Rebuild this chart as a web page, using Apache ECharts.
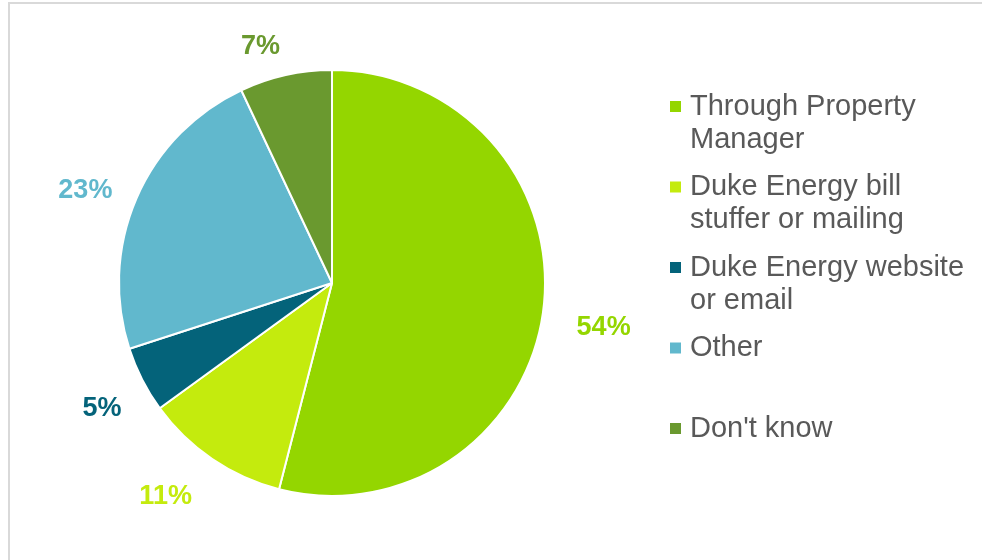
<!DOCTYPE html>
<html>
<head>
<meta charset="utf-8">
<script src="https://cdn.jsdelivr.net/npm/echarts@6/dist/echarts.min.js"></script>
<style>
  html, body { margin: 0; padding: 0; background: #ffffff; overflow: hidden; }
  #frame {
    position: absolute; left: 8px; top: 2px; width: 1000px; height: 600px;
    border: 2px solid #d9d9d9; box-sizing: border-box;
  }
  #chart { position: absolute; left: 0; top: 0; width: 982px; height: 560px; }
</style>
</head>
<body>
<div id="frame"></div>
<div id="chart"></div>
<script>
// Where did respondents hear about the program (share of responses, %)
const categories = [
  'Through Property\nManager',
  'Duke Energy bill\nstuffer or mailing',
  'Duke Energy website\nor email',
  'Other',
  "Don't know"
];
const shares = [54, 11, 5, 23, 7];
const sliceColors = ['#94d600', '#c4eb0d', '#04637a', '#61b8cd', '#6a992f'];

const CENTER = [332, 283];
const RADIUS = 213;
// label placement around the pie: distance from centre and a small angular nudge (degrees)
const labelRadius = [275, 269, 261, 264, 249];
const labelNudge = [1.8, 4, -1.2, -2.5, -4.1];

const chart = echarts.init(document.getElementById('chart'), null, { renderer: 'canvas' });

// mid-angle of each slice, going clockwise from 12 o'clock
const total = shares.reduce((a, b) => a + b, 0);
const midAngles = [];
let acc = 0;
shares.forEach(v => {
  midAngles.push((acc + v / 2) / total * Math.PI * 2);
  acc += v;
});

const legendRich = {
  g: { width: 9, height: 11 },
  ind: { width: 20, height: 11 },
  t: { fontSize: 29, color: '#595959', lineHeight: 33, fontFamily: 'Liberation Sans, Arial, sans-serif', verticalAlign: 'middle' }
};
sliceColors.forEach((c, i) => {
  legendRich['m' + i] = { width: 11, height: 11, backgroundColor: c, verticalAlign: 'middle' };
});

const option = {
  backgroundColor: 'transparent',
  animation: false,
  legend: {
    orient: 'vertical',
    left: 660,
    top: 87,
    icon: 'none',
    itemWidth: 0,
    itemHeight: 11,
    itemGap: 18.5,
    selectedMode: false,
    data: categories,
    formatter: function (name) {
      const i = categories.indexOf(name);
      const lines = name.split('\n');
      let s = '{m' + i + '|}{g|}{t|' + lines[0] + '}';
      for (let k = 1; k < lines.length; k++) s += '\n{ind|}{t|' + lines[k] + '}';
      if (lines.length < 2) s += '\n{t| }';
      return s;
    },
    textStyle: { rich: legendRich }
  },
  series: [{
    type: 'pie',
    center: CENTER,
    radius: RADIUS,
    startAngle: 90,
    clockwise: true,
    avoidLabelOverlap: false,
    itemStyle: { borderColor: '#ffffff', borderWidth: 2 },
    label: {
      show: true,
      position: 'outside',
      formatter: '{c}%',
      fontSize: 27,
      fontWeight: 'bold',
      fontFamily: 'Liberation Sans, Arial, sans-serif'
    },
    labelLine: { show: false },
    labelLayout: function (params) {
      const i = params.dataIndex;
      const a = midAngles[i] + labelNudge[i] * Math.PI / 180;
      return {
        x: CENTER[0] + labelRadius[i] * Math.sin(a),
        y: CENTER[1] - labelRadius[i] * Math.cos(a) + 2,
        align: 'center',
        verticalAlign: 'middle'
      };
    },
    emphasis: { disabled: true },
    data: categories.map((name, i) => ({
      name: name,
      value: shares[i],
      itemStyle: { color: sliceColors[i] },
      label: { color: sliceColors[i] }
    }))
  }]
};

chart.setOption(option);
</script>
</body>
</html>
